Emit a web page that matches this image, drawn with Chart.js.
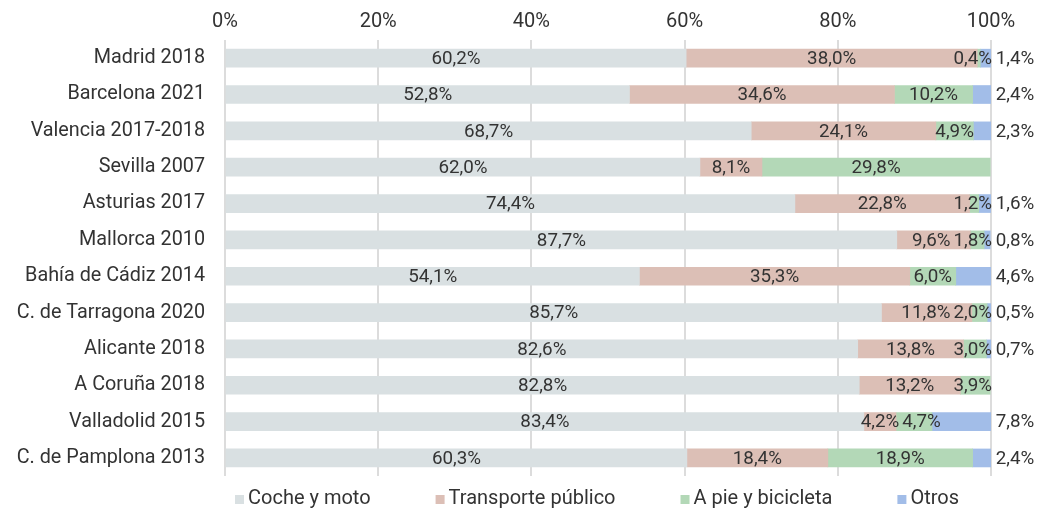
<!DOCTYPE html>
<html><head><meta charset="utf-8">
<script src="https://cdn.jsdelivr.net/npm/chart.js@4/dist/chart.umd.min.js"></script>
<style>html,body{margin:0;padding:0;background:#fff;}</style>
</head><body>
<canvas id="c" width="1045" height="508"></canvas>
<script>
const categories = ['Madrid 2018','Barcelona 2021','Valencia 2017-2018','Sevilla 2007','Asturias 2017','Mallorca 2010','Bahía de Cádiz 2014','C. de Tarragona 2020','Alicante 2018','A Coruña 2018','Valladolid 2015','C. de Pamplona 2013'];
const cocheMoto = [60.2, 52.8, 68.7, 62.0, 74.4, 87.7, 54.1, 85.7, 82.6, 82.8, 83.4, 60.3];
const transportePublico = [38.0, 34.6, 24.1, 8.1, 22.8, 9.6, 35.3, 11.8, 13.8, 13.2, 4.2, 18.4];
const aPieBicicleta = [0.4, 10.2, 4.9, 29.8, 1.2, 1.8, 6.0, 2.0, 3.0, 3.9, 4.7, 18.9];
const otros = [1.4, 2.4, 2.3, null, 1.6, 0.8, 4.6, 0.5, 0.7, null, 7.8, 2.4];
const seriesNames = ['Coche y moto','Transporte público','A pie y bicicleta','Otros'];
const seriesColors = ['#d9e0e2','#dcbfb6','#b3d8b7','#a2bde8'];
const xTickValues = [0, 20, 40, 60, 80, 100];

const FONT = 'Roboto';
const TEXT = '#333333';
const fmt = v => v.toFixed(1).replace('.', ',') + '%';

const segLabels = {
  id: 'segLabels',
  afterDatasetsDraw(chart) {
    const ctx = chart.ctx;
    const xs = chart.scales.x;
    const endX = xs.getPixelForValue(100);
    ctx.save();
    ctx.font = '18.8px ' + FONT;
    ctx.fillStyle = TEXT;
    ctx.textBaseline = 'middle';
    const n = chart.data.labels.length;
    for (let i = 0; i < n; i++) {
      const row = [];
      let y = 0;
      chart.data.datasets.forEach((ds, di) => {
        const v = ds.data[i];
        if (v == null) return;
        const el = chart.getDatasetMeta(di).data[i];
        y = el.y;
        const txt = fmt(v);
        const w = ctx.measureText(txt).width;
        if (di === 3) {
          row.push({txt, w, cx: endX + 24, fixed: true});
          return;
        }
        const left = Math.min(el.x, el.base), right = Math.max(el.x, el.base);
        let cx = (left + right) / 2;
        if (cx + w / 2 > endX + 1) cx = endX + 1 - w / 2;
        row.push({txt, w, cx, fixed: false});
      });
      // resolve overlaps between consecutive inner labels
      const gap = 3;
      for (let k = 0; k < row.length - 1; k++) {
        const a = row[k], b = row[k + 1];
        if (b.fixed) continue;
        const over = (a.cx + a.w / 2 + gap) - (b.cx - b.w / 2);
        if (over > 0) {
          const room = Math.max(0, (endX + 1) - (b.cx + b.w / 2));
          const push = Math.min(over, room);
          b.cx += push;
          a.cx -= (over - push);
        }
      }
      row.forEach(l => {
        ctx.textAlign = 'center';
        ctx.fillText(l.txt, l.cx, y + 1);
      });
    }
    ctx.restore();
  }
};

const customLegend = {
  id: 'customLegend',
  afterDraw(chart) {
    const ctx = chart.ctx;
    ctx.save();
    ctx.font = '20px ' + FONT;
    ctx.textBaseline = 'alphabetic';
    ctx.textAlign = 'left';
    const box = 9, gapBox = 4, gapItem = 65;
    const items = chart.data.datasets.map(d => ({text: d.label, color: d.backgroundColor, w: ctx.measureText(d.label).width}));
    let total = 0;
    items.forEach((it, i) => { total += box + gapBox + it.w + (i < items.length - 1 ? gapItem : 0); });
    let x = 597 - total / 2;
    const base = 504;
    items.forEach(it => {
      ctx.fillStyle = it.color;
      ctx.fillRect(x, base - box, box, box);
      x += box + gapBox;
      ctx.fillStyle = TEXT;
      ctx.fillText(it.text, x, base);
      x += it.w + gapItem;
    });
    ctx.restore();
  }
};

const series = [cocheMoto, transportePublico, aPieBicicleta, otros];
new Chart(document.getElementById('c'), {
  type: 'bar',
  data: {
    labels: categories,
    datasets: series.map((arr, i) => ({
      label: seriesNames[i],
      data: arr,
      backgroundColor: seriesColors[i],
      borderWidth: 0,
      barThickness: 18
    }))
  },
  options: {
    indexAxis: 'y',
    responsive: false,
    animation: false,
    devicePixelRatio: 1,
    layout: {padding: {left: 0, right: 54, top: 0, bottom: 25}},
    plugins: {legend: {display: false}, tooltip: {enabled: false}},
    scales: {
      x: {
        stacked: true, position: 'top', min: 0, max: 100,
        afterBuildTicks: s => { s.ticks = xTickValues.map(v => ({value: v})); },
        afterFit: s => { s.height = 40; },
        grid: {color: '#dcdcdc', lineWidth: 2, drawTicks: false},
        border: {display: false},
        ticks: {padding: 6, color: TEXT, font: {family: FONT, size: 20}, callback: v => v + '%'}
      },
      y: {
        stacked: true,
        afterFit: s => { s.width = 225; },
        grid: {display: false, drawTicks: false},
        border: {display: false},
        ticks: {padding: 20, color: TEXT, font: {family: FONT, size: 19.8}}
      }
    }
  },
  plugins: [segLabels, customLegend]
});
</script>
</body></html>
